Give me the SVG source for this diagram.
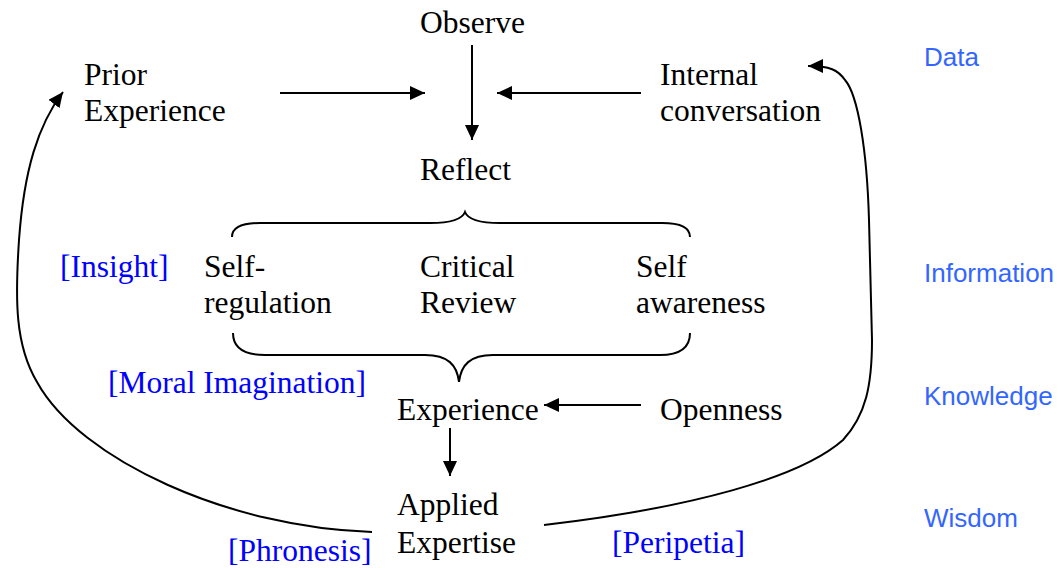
<svg xmlns="http://www.w3.org/2000/svg" width="1059" height="568" viewBox="0 0 1059 568">
<style>
.t{font-family:"Liberation Serif","Times New Roman",serif;font-size:31.5px;fill:#000}
.b{font-family:"Liberation Serif","Times New Roman",serif;font-size:31.5px;fill:#0000ff}
.s{font-family:"Liberation Sans",Arial,sans-serif;font-size:26px;fill:#3366ff}
.ln{fill:none;stroke:#000;stroke-width:2}
</style>
<defs>
<marker id="ah" markerUnits="userSpaceOnUse" markerWidth="16" markerHeight="14" refX="15" refY="7" orient="auto">
<path d="M0,0 L15,7 L0,14 z" fill="#000"/>
</marker>
</defs>
<rect width="1059" height="568" fill="#fff"/>
<g id="connectors">
<path class="ln" d="M280,93 L425,93" marker-end="url(#ah)"/>
<path class="ln" d="M641,93 L497,93" marker-end="url(#ah)"/>
<path class="ln" d="M472,45 L472,140" marker-end="url(#ah)"/>
<path class="ln" d="M641,405 L544,405" marker-end="url(#ah)"/>
<path class="ln" d="M450,428 L450,476" marker-end="url(#ah)"/>
<path class="ln" d="M372,532 C230,528 80,460 37,382 C15,345 15,300 19,240 C24,170 38,125 63,92" marker-end="url(#ah)"/>
<path class="ln" d="M544,525 C690,508 800,478 843,440 C866,415 872,385 872,340 L869,220 C867,150 858,95 845,80 C838,70 830,66 808,66" marker-end="url(#ah)"/>
<path class="ln" d="M232,237 C232,228 240,223 260,223 L430,223 C450,223 462,220 465,212 C468,220 480,223 500,223 L662,223 C682,223 690,228 690,237"/>
<path class="ln" d="M233,333 C233,348 245,355 265,355 L425,355 C448,355 457,365 459,382 C461,365 470,355 493,355 L660,355 C680,355 690,348 690,333"/>
</g>
<g id="observe"><text class="t" x="420" y="33">Observe</text></g>
<g id="prior-experience"><text class="t" x="84" y="85">Prior</text><text class="t" x="84" y="121">Experience</text></g>
<g id="internal-conversation"><text class="t" x="660" y="85">Internal</text><text class="t" x="660" y="121">conversation</text></g>
<g id="reflect"><text class="t" x="420" y="180">Reflect</text></g>
<g id="self-regulation"><text class="t" x="204" y="277">Self-</text><text class="t" x="204" y="313">regulation</text></g>
<g id="critical-review"><text class="t" x="420" y="277">Critical</text><text class="t" x="420" y="313">Review</text></g>
<g id="self-awareness"><text class="t" x="636" y="277">Self</text><text class="t" x="636" y="313">awareness</text></g>
<g id="experience"><text class="t" x="397" y="420">Experience</text></g>
<g id="openness"><text class="t" x="660" y="420">Openness</text></g>
<g id="applied-expertise"><text class="t" x="397" y="515">Applied</text><text class="t" x="397" y="553">Expertise</text></g>
<g id="bracket-labels">
<text class="b" x="60" y="277">[Insight]</text>
<text class="b" x="108" y="393">[Moral Imagination]</text>
<text class="b" x="228" y="561">[Phronesis]</text>
<text class="b" x="612" y="553">[Peripetia]</text>
</g>
<g id="levels">
<text class="s" x="924" y="66">Data</text>
<text class="s" x="924" y="282">Information</text>
<text class="s" x="924" y="405">Knowledge</text>
<text class="s" x="924" y="527">Wisdom</text>
</g>
</svg>
